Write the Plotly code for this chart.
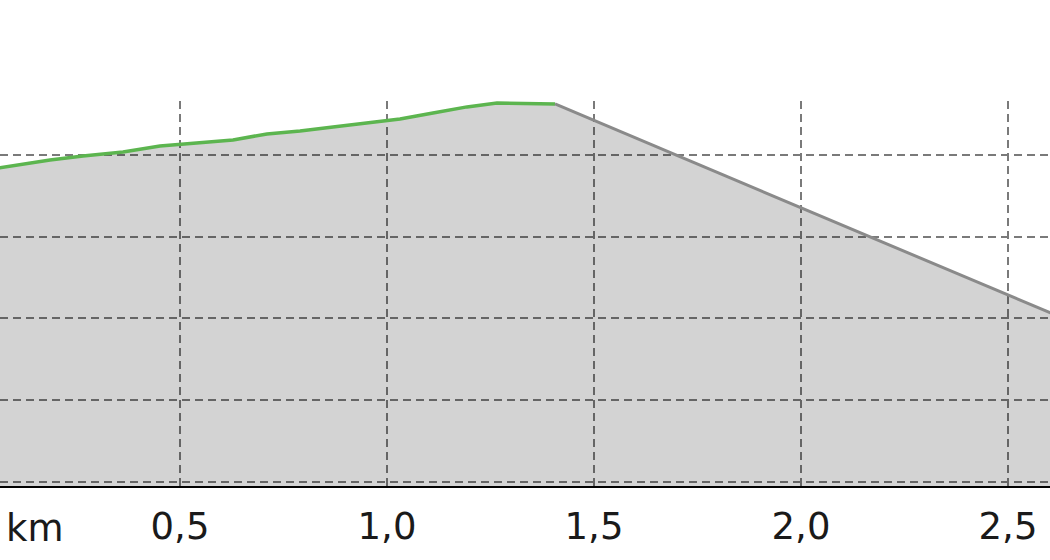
import plotly.graph_objects as go

# Distance (km) and elevation (m) of the recorded (green) part of the profile
dist_green = [0.0, 0.0652, 0.1135, 0.186, 0.2657, 0.3623, 0.4517, 0.5483, 0.628,
              0.7101, 0.7899, 0.8696, 0.9517, 1.0314, 1.1111, 1.1932, 1.2657,
              1.3865, 1.4058]
elev_green = [237.9, 238.41, 238.78, 239.39, 239.88, 240.37, 241.10, 241.47, 241.84,
              242.57, 242.94, 243.43, 243.92, 244.41, 245.14, 245.88, 246.36,
              246.24, 246.24]

# Straight (gray) remaining segment
dist_gray = [1.4058, 2.62]
elev_gray = [246.24, 220.3]

tick_vals = [0.5, 1.0, 1.5, 2.0, 2.5]
tick_text = ["0,5", "1,0", "1,5", "2,0", "2,5"]
unit_label = "km"

x_range = [0.06522, 2.60145]
y_range = [199.5, 246.6]

fill_col = "rgba(0,0,0,0.172)"

fig = go.Figure()
fig.add_trace(go.Scatter(x=dist_green, y=elev_green, mode="lines",
                         line=dict(color="#5cb54f", width=3.5),
                         fill="tozeroy", fillcolor=fill_col,
                         hoverinfo="skip", showlegend=False))
fig.add_trace(go.Scatter(x=dist_gray, y=elev_gray, mode="lines",
                         line=dict(color="#8a8a8a", width=3),
                         fill="tozeroy", fillcolor=fill_col,
                         hoverinfo="skip", showlegend=False))

grid_col = "#7a7a7a"
fig.update_xaxes(range=x_range, tickvals=tick_vals, ticktext=tick_text,
                 showgrid=True, gridcolor=grid_col, gridwidth=2, griddash="8px,5px",
                 showline=True, linecolor="#000000", linewidth=2,
                 zeroline=False, ticks="", ticklabelstandoff=7,
                 tickfont=dict(family="DejaVu Sans", size=37, color="#1a1a1a"))
fig.update_yaxes(range=y_range, dtick=10, tick0=200,
                 showgrid=True, gridcolor=grid_col, gridwidth=2, griddash="8px,5px",
                 showticklabels=False, zeroline=False, showline=False, ticks="")

fig.add_annotation(text=unit_label, xref="paper", yref="paper", x=0, y=0,
                   xanchor="left", yanchor="top", xshift=4, yshift=-19,
                   showarrow=False,
                   font=dict(family="DejaVu Sans", size=37, color="#1a1a1a"))

fig.update_layout(width=1050, height=560,
                  margin=dict(l=0, r=0, t=101, b=74),
                  paper_bgcolor="white", plot_bgcolor="white")

fig.write_html("out.html", config={"displayModeBar": False},
               post_script="document.body.style.margin='0';")
